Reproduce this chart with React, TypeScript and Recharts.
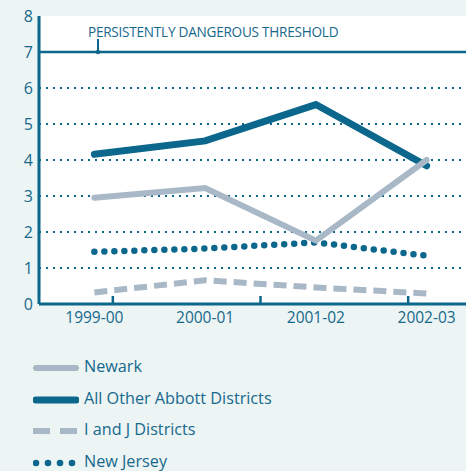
import { CartesianGrid, Line, LineChart, ReferenceLine, XAxis, YAxis } from 'recharts';

const categories = ['1999-00', '2000-01', '2001-02', '2002-03'];
const newark = [2.95, 3.22, 1.76, 4.0];
const otherAbbott = [4.16, 4.53, 5.54, 3.84];
const iAndJ = [0.32, 0.66, 0.46, 0.29];
const newJersey = [1.45, 1.54, 1.71, 1.34];

const yTicks = [0, 1, 2, 3, 4, 5, 6, 7, 8];
const gridValues = [1, 2, 3, 4, 5, 6];
const categoryTicks = [0, 1, 2, 3];
const separatorTicks = [0.5, 1.5, 2.5];
const THRESHOLD = 7;
const THRESHOLD_LABEL = 'PERSISTENTLY DANGEROUS THRESHOLD';

const TEAL = '#0b678b';
const TEXT = '#16698d';
const GRAY = '#a9b8c6';
const BG = '#edf4f4';
const FONT = '"Open Sans", sans-serif';

const data = categories.map((label, i) => ({
  x: i,
  label,
  newark: newark[i],
  otherAbbott: otherAbbott[i],
  iAndJ: iAndJ[i],
  newJersey: newJersey[i],
}));

type LegendItem = { name: string; kind: 'gray' | 'teal' | 'dash' | 'dots' };

const legendItems: LegendItem[] = [
  { name: 'Newark', kind: 'gray' },
  { name: 'All Other Abbott Districts', kind: 'teal' },
  { name: 'I and J Districts', kind: 'dash' },
  { name: 'New Jersey', kind: 'dots' },
];

function LegendIcon({ kind }: { kind: LegendItem['kind'] }) {
  return (
    <svg width={46} height={12} style={{ display: 'block', marginTop: 4 }}>
      {kind === 'gray' && (
        <line x1={3} y1={6} x2={43} y2={6} stroke={GRAY} strokeWidth={6} strokeLinecap='round' />
      )}
      {kind === 'teal' && (
        <line x1={3} y1={6} x2={43} y2={6} stroke={TEAL} strokeWidth={7} strokeLinecap='round' />
      )}
      {kind === 'dash' && (
        <line x1={0} y1={6} x2={44} y2={6} stroke={GRAY} strokeWidth={6} strokeDasharray='17 10' />
      )}
      {kind === 'dots' && [3, 15, 27, 39].map((cx) => <circle key={cx} cx={cx} cy={6} r={3.3} fill={TEAL} />)}
    </svg>
  );
}

function ThresholdLabel({ viewBox }: { viewBox?: { x: number; y: number } }) {
  if (!viewBox) return null;
  const { x, y } = viewBox;
  return (
    <g>
      <text
        x={x + 49}
        y={y - 15}
        fill={TEXT}
        fontSize={13.6}
        fontFamily={FONT}
        letterSpacing={-0.25}
      >
        {THRESHOLD_LABEL}
      </text>
      <line x1={x + 59} y1={y - 13} x2={x + 59} y2={y} stroke={TEAL} strokeWidth={2} />
      <circle cx={x + 59} cy={y} r={2.2} fill={TEAL} />
    </g>
  );
}

export default function App() {
  const tickStyle = { fill: TEXT, fontSize: 15, fontFamily: FONT };
  return (
    <div
      style={{
        position: 'fixed',
        left: 0,
        top: 0,
        width: 466,
        height: 471,
        overflow: 'hidden',
        background: BG,
      }}
    >
      <LineChart width={482} height={340} data={data} margin={{ top: 16, right: 0, left: 0, bottom: 0 }}>
        <CartesianGrid
          fill='#ffffff'
          fillOpacity={1}
          vertical={false}
          horizontalValues={gridValues}
          stroke={TEAL}
          strokeWidth={2}
          strokeDasharray='2 5'
        />
        <XAxis
          dataKey='x'
          type='number'
          domain={[-0.5, 3.5]}
          ticks={categoryTicks}
          interval={0}
          tickFormatter={(v) => categories[Number(v)] ?? ''}
          tick={{ ...tickStyle, fontSize: 15.5 }}
          tickLine={false}
          tickSize={6}
          tickMargin={2}
          axisLine={{ stroke: TEAL, strokeWidth: 3 }}
          height={36}
        />
        <XAxis
          xAxisId='sep'
          type='number'
          domain={[-0.5, 3.5]}
          ticks={separatorTicks}
          interval={0}
          mirror
          axisLine={false}
          tickSize={8}
          tickLine={{ stroke: TEAL, strokeWidth: 2.5 }}
          tick={() => <g />}
        />
        <YAxis
          type='number'
          domain={[0, 8]}
          ticks={yTicks}
          interval={0}
          width={39}
          tick={{ ...tickStyle, fontSize: 16 }}
          tickLine={false}
          tickSize={4}
          tickMargin={2}
          axisLine={{ stroke: TEAL, strokeWidth: 3 }}
        />
        <ReferenceLine
          y={THRESHOLD}
          stroke={TEAL}
          strokeWidth={2.5}
          label={(props: any) => <ThresholdLabel viewBox={props.viewBox} />}
        />
        <Line
          dataKey='iAndJ'
          type='linear'
          stroke={GRAY}
          strokeWidth={6}
          strokeDasharray='13 7'
          dot={false}
          isAnimationActive={false}
        />
        <Line
          dataKey='newJersey'
          type='linear'
          stroke={TEAL}
          strokeWidth={6.5}
          strokeDasharray='0 10'
          strokeLinecap='round'
          dot={false}
          isAnimationActive={false}
        />
        <Line
          dataKey='otherAbbott'
          type='linear'
          stroke={TEAL}
          strokeWidth={7}
          strokeLinecap='round'
          dot={false}
          isAnimationActive={false}
        />
        <Line
          dataKey='newark'
          type='linear'
          stroke={GRAY}
          strokeWidth={6}
          strokeLinecap='round'
          dot={false}
          isAnimationActive={false}
        />
      </LineChart>
      <div style={{ position: 'absolute', left: 33, top: 350 }}>
        {legendItems.map((item) => (
          <div key={item.name} style={{ display: 'flex', alignItems: 'center', height: 31.7 }}>
            <LegendIcon kind={item.kind} />
            <span style={{ marginLeft: 5, color: TEXT, fontSize: 16.2, fontFamily: FONT, lineHeight: '20px' }}>
              {item.name}
            </span>
          </div>
        ))}
      </div>
    </div>
  );
}
